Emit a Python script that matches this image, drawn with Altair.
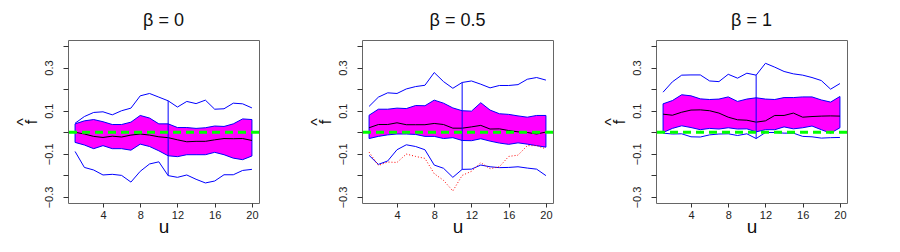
import altair as alt
import pandas as pd

u = list(range(1, 21))

# beta = 0
b0_hi = [0.042, 0.073, 0.092, 0.095, 0.081, 0.100, 0.112, 0.169, 0.180, 0.163,
         0.146, 0.117, 0.143, 0.133, 0.149, 0.107, 0.109, 0.135, 0.132, 0.113]
b0_lo = [-0.089, -0.163, -0.175, -0.198, -0.195, -0.200, -0.231, -0.181, -0.147, -0.137,
         -0.201, -0.209, -0.198, -0.218, -0.235, -0.226, -0.197, -0.197, -0.177, -0.172]
b0_bhi = [0.039, 0.053, 0.059, 0.049, 0.036, 0.036, 0.047, 0.078, 0.066, 0.039,
          0.039, 0.022, 0.022, 0.018, 0.021, 0.029, 0.027, 0.039, 0.062, 0.059]
b0_blo = [-0.047, -0.059, -0.076, -0.062, -0.076, -0.076, -0.083, -0.055, -0.066, -0.086,
          -0.109, -0.113, -0.104, -0.104, -0.104, -0.093, -0.104, -0.120, -0.127, -0.110]
b0_mid = [0.000, -0.008, -0.019, -0.024, -0.018, -0.022, -0.013, -0.008, -0.013, -0.021,
          -0.025, -0.035, -0.044, -0.042, -0.042, -0.035, -0.029, -0.030, -0.029, -0.038]

# beta = 0.5
b5_hi = [0.120, 0.163, 0.183, 0.180, 0.201, 0.212, 0.218, 0.277, 0.235, 0.204,
         0.231, 0.238, 0.223, 0.206, 0.217, 0.217, 0.221, 0.246, 0.254, 0.242]
b5_lo = [-0.107, -0.149, -0.133, -0.081, -0.058, -0.066, -0.081, -0.152, -0.167, -0.209,
         -0.172, -0.171, -0.152, -0.160, -0.164, -0.163, -0.160, -0.166, -0.171, -0.201]
b5_bhi = [0.079, 0.107, 0.107, 0.112, 0.110, 0.124, 0.123, 0.149, 0.135, 0.113,
          0.100, 0.098, 0.137, 0.103, 0.086, 0.083, 0.076, 0.070, 0.078, 0.078]
b5_blo = [-0.029, -0.019, -0.012, -0.008, -0.008, -0.010, -0.019, -0.019, -0.029, -0.025,
          -0.038, -0.039, -0.030, -0.041, -0.050, -0.056, -0.049, -0.055, -0.062, -0.069]
b5_mid = [0.021, 0.036, 0.036, 0.044, 0.035, 0.035, 0.035, 0.041, 0.036, 0.019,
          0.019, 0.025, 0.032, 0.015, 0.016, 0.008, 0.002, -0.001, -0.008, 0.001]
b5_red = [-0.092, -0.154, -0.138, -0.140, -0.101, -0.112, -0.121, -0.192, -0.223, -0.272,
          -0.200, -0.181, -0.141, -0.169, -0.160, -0.112, -0.106, -0.062, -0.062, -0.077]

# beta = 1
b1_hi = [0.186, 0.234, 0.265, 0.266, 0.266, 0.238, 0.235, 0.269, 0.251, 0.274,
         0.265, 0.320, 0.302, 0.282, 0.271, 0.265, 0.254, 0.240, 0.200, 0.226]
b1_lo = [-0.004, -0.008, -0.007, -0.021, -0.022, -0.012, -0.008, -0.007, -0.015, -0.007,
         -0.029, -0.001, -0.001, -0.004, -0.004, -0.019, -0.021, -0.027, -0.025, -0.024]
b1_bhi = [0.132, 0.147, 0.174, 0.169, 0.155, 0.152, 0.154, 0.164, 0.143, 0.154,
          0.160, 0.154, 0.152, 0.161, 0.161, 0.164, 0.164, 0.150, 0.140, 0.166]
b1_blo = [-0.001, 0.018, 0.030, 0.022, 0.012, 0.018, 0.015, 0.021, 0.015, 0.016,
          0.002, 0.012, 0.012, 0.025, 0.016, 0.021, 0.029, 0.012, -0.004, 0.021]
b1_mid = [0.084, 0.079, 0.093, 0.103, 0.104, 0.100, 0.089, 0.070, 0.058, 0.056,
          0.047, 0.053, 0.078, 0.078, 0.089, 0.070, 0.073, 0.075, 0.076, 0.075]

titles = ["β = 0", "β = 0.5", "β = 1"]
y_title = ["^", "f"]
x_ticks = [4, 8, 12, 16, 20]
y_ticks = [-0.3, -0.2, -0.1, 0.0, 0.1, 0.2, 0.3, 0.4]
split_u = 11

FONT = "Liberation Sans"
xs = alt.Scale(domain=[0.24, 20.76], nice=False, zero=False)
ys = alt.Scale(domain=[-0.328, 0.428], nice=False, zero=False)

xax = alt.Axis(values=x_ticks, title="u", domain=False, grid=False, tickSize=4,
               tickColor="#333333", labelFontSize=11, labelFont=FONT, labelColor="#222222",
               labelPadding=2, titleFont=FONT, titleFontSize=19, titleFontWeight="normal",
               titleColor="#111111", titlePadding=-3)
yax = alt.Axis(values=y_ticks, title=y_title, domain=False, grid=False, tickSize=5,
               tickColor="#333333", labelFontSize=11, labelFont=FONT, labelColor="#222222",
               labelAngle=270, labelAlign="center", labelBaseline="bottom", labelPadding=9,
               format=".1f",
               labelExpr="(abs(datum.value) > 0.05 && abs(abs(datum.value) - 0.2) > 0.05 && datum.value < 0.35) ? datum.label : ''",
               minExtent=25, maxExtent=25,
               titleFont=FONT, titleFontSize=16, titleFontWeight="normal",
               titleLineHeight=8, titleColor="#111111", titlePadding=4)


def panel(title, hi, lo, bhi, blo, mid, red=None):
    df = pd.DataFrame({"u": u, "hi": hi, "lo": lo, "bhi": bhi, "blo": blo, "mid": mid})
    base = alt.Chart(df)
    X = alt.X("u:Q", scale=xs, axis=xax)

    def Y(f):
        return alt.Y(f, type="quantitative", scale=ys, axis=yax)

    band = base.mark_area(color="#ff00ff", stroke="#0000ff", strokeWidth=1).encode(
        x=X, y=Y("blo"), y2="bhi:Q")
    up = base.mark_line(color="#0000ff", strokeWidth=1).encode(x=X, y=Y("hi"))
    dn = base.mark_line(color="#0000ff", strokeWidth=1).encode(x=X, y=Y("lo"))
    md = base.mark_line(color="#000000", strokeWidth=1).encode(x=X, y=Y("mid"))
    vr = alt.Chart(df[df.u == split_u]).mark_rule(color="#0000ff", strokeWidth=1).encode(
        x=X, y=Y("lo"), y2="hi:Q")
    layers = [band, up, dn, md, vr]
    if red is not None:
        rdf = pd.DataFrame({"u": u, "r": red})
        layers.append(alt.Chart(rdf).mark_line(color="#ff0000", strokeWidth=1,
                                               strokeDash=[1, 2]).encode(x=X, y=Y("r")))
    zdf = pd.DataFrame({"z": [0.0]})
    layers.append(alt.Chart(zdf).mark_rule(color="#00ff00", strokeWidth=3,
                                           strokeDash=[8, 5]).encode(y=Y("z")))
    return alt.layer(*layers).properties(
        width=191, height=163,
        title=alt.TitleParams(title, font=FONT, fontSize=18, fontWeight="normal",
                              color="#111111", offset=10, anchor="middle"))


p1 = panel(titles[0], b0_hi, b0_lo, b0_bhi, b0_blo, b0_mid)
p2 = panel(titles[1], b5_hi, b5_lo, b5_bhi, b5_blo, b5_mid, red=b5_red)
p3 = panel(titles[2], b1_hi, b1_lo, b1_bhi, b1_blo, b1_mid)

chart = alt.hconcat(p1, p2, p3, spacing=103, bounds="flush").properties(
    padding={"left": 6, "top": 3, "right": 5, "bottom": 5}
).configure_view(stroke="#666666", strokeWidth=1)

chart.save("out.html", embed_options={"renderer": "svg", "actions": False})
